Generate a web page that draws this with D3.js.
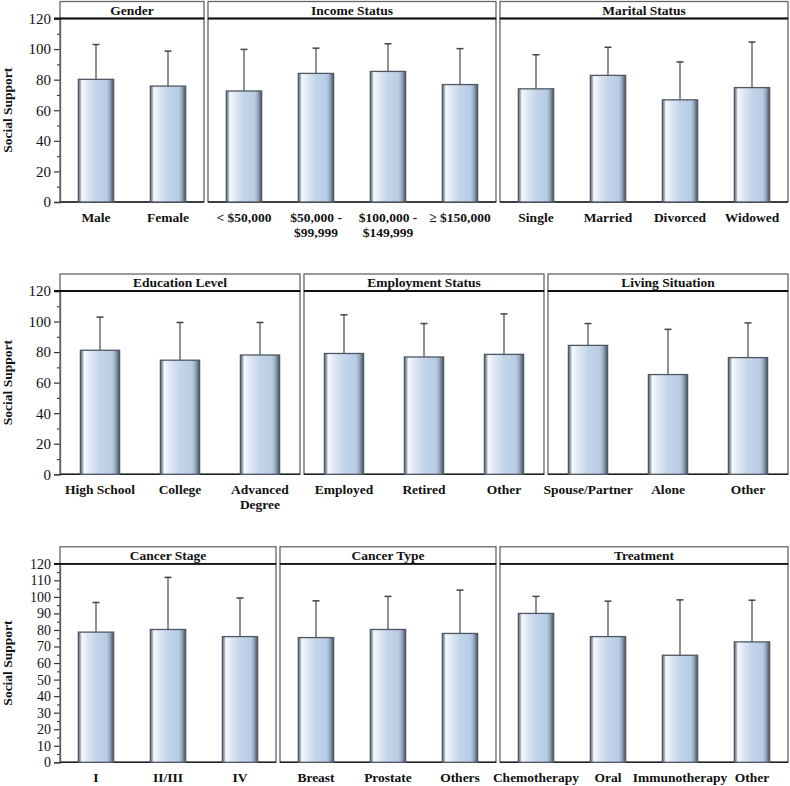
<!DOCTYPE html>
<html>
<head>
<meta charset="utf-8">
<script src="https://cdn.jsdelivr.net/npm/d3@7"></script>
<style>
  body { margin: 0; background: #fff; }
  svg { display: block; }
  text { font-family: "Liberation Serif", "Times New Roman", serif; fill: #111; }
</style>
</head>
<body>
<svg id="chart"></svg>
<script>
// ---- data (means and upper error bar ends) ----
var genderCats = ["Male", "Female"],
  genderMean = [80.2, 75.8],
  genderUpper = [103, 98.7];

var incomeCats = ["< $50,000", "$50,000 -\n$99,999", "$100,000 -\n$149,999", "\u2265 $150,000"],
  incomeMean = [72.6, 84.1, 85.4, 76.8],
  incomeUpper = [99.8, 100.6, 103.5, 100.3];

var maritalCats = ["Single", "Married", "Divorced", "Widowed"],
  maritalMean = [74, 82.8, 66.8, 74.8],
  maritalUpper = [96.3, 101.2, 91.6, 104.6];

var educationCats = ["High School", "College", "Advanced\nDegree"],
  educationMean = [81.2, 74.7, 78.1],
  educationUpper = [102.9, 99.4, 99.4];

var employmentCats = ["Employed", "Retired", "Other"],
  employmentMean = [79.1, 76.8, 78.5],
  employmentUpper = [104.4, 98.7, 105];

var livingCats = ["Spouse/Partner", "Alone", "Other"],
  livingMean = [84.4, 65.3, 76.4],
  livingUpper = [98.7, 94.9, 99.1];

var stageCats = ["I", "II/III", "IV"],
  stageMean = [78.7, 80.3, 76],
  stageUpper = [96.6, 111.8, 99.3];

var typeCats = ["Breast", "Prostate", "Others"],
  typeMean = [75.4, 80.3, 77.9],
  typeUpper = [97.6, 100.3, 104.1];

var treatmentCats = ["Chemotherapy", "Oral", "Immunotherapy", "Other"],
  treatmentMean = [90, 76, 64.7, 72.8],
  treatmentUpper = [100.3, 97.4, 98.2, 98];

var rowTitles = [
  ["Gender", "Income Status", "Marital Status"],
  ["Education Level", "Employment Status", "Living Situation"],
  ["Cancer Stage", "Cancer Type", "Treatment"]
];
var majorTicks = [
  [0, 20, 40, 60, 80, 100, 120],
  [0, 20, 40, 60, 80, 100, 120],
  [0, 10, 20, 30, 40, 50, 60, 70, 80, 90, 100, 110, 120]
];
var minorTicks = [
  [10, 30, 50, 70, 90, 110],
  [10, 30, 50, 70, 90, 110],
  [5, 15, 25, 35, 45, 55, 65, 75, 85, 95, 105, 115]
];

var rows = [
  [
    { cats: genderCats, mean: genderMean, upper: genderUpper },
    { cats: incomeCats, mean: incomeMean, upper: incomeUpper },
    { cats: maritalCats, mean: maritalMean, upper: maritalUpper }
  ],
  [
    { cats: educationCats, mean: educationMean, upper: educationUpper },
    { cats: employmentCats, mean: employmentMean, upper: employmentUpper },
    { cats: livingCats, mean: livingMean, upper: livingUpper }
  ],
  [
    { cats: stageCats, mean: stageMean, upper: stageUpper },
    { cats: typeCats, mean: typeMean, upper: typeUpper },
    { cats: treatmentCats, mean: treatmentMean, upper: treatmentUpper }
  ]
];

// ---- layout ----
var width = 790, height = 786,
  left = 60, right = 788, gap = 4,
  headerH = 17,
  // [header top, plot bottom] per row
  rowY = [[1.5, 202], [274, 474.3], [546.8, 762.3]],
  tickFont = [15, 15, 14];

var svg = d3.select("#chart").attr("width", width).attr("height", height);

var defs = svg.append("defs");
var grad = defs.append("linearGradient")
  .attr("id", "barGrad")
  .attr("x1", "0%").attr("x2", "100%").attr("y1", "0%").attr("y2", "0%");
[
  [0, "#5b6672"], [0.05, "#9aa6b4"], [0.1, "#f6f9fd"], [0.25, "#dfe8f3"],
  [0.5, "#c3d5ea"], [0.8, "#b7cce5"], [0.88, "#9cb0c8"], [0.95, "#6c7a8a"], [1, "#4d5763"]
].forEach(function(s) {
  grad.append("stop").attr("offset", s[0]).attr("stop-color", s[1]);
});

rows.forEach(function(panels, r) {
  var top = rowY[r][0],
    plotTop = top + headerH,
    bottom = rowY[r][1];

  var y = d3.scaleLinear().domain([0, 120]).range([bottom, plotTop]);

  var nCats = d3.sum(panels, function(p) { return p.cats.length; });
  var step = (right - left - gap * (panels.length - 1)) / nCats;

  var row = svg.append("g").attr("class", "row");

  // y axis
  var yAxis = row.append("g")
    .attr("transform", "translate(" + left + ",0)")
    .call(d3.axisLeft(y).tickValues(majorTicks[r]).tickSize(6).tickPadding(3).tickFormat(d3.format("d")));
  yAxis.select(".domain").attr("stroke", "#555").attr("stroke-width", 1.3);
  yAxis.selectAll(".tick line").attr("stroke", "#333").attr("stroke-width", 1.2);
  yAxis.selectAll(".tick text")
    .style("font-family", '"Liberation Serif", "Times New Roman", serif')
    .style("font-size", tickFont[r] + "px")
    .attr("fill", "#111");

  var yMinor = row.append("g")
    .attr("transform", "translate(" + left + ",0)")
    .call(d3.axisLeft(y).tickValues(minorTicks[r]).tickSize(3).tickFormat(""));
  yMinor.select(".domain").remove();
  yMinor.selectAll(".tick line").attr("stroke", "#333").attr("stroke-width", 1.1);

  row.append("text")
    .attr("transform", "translate(12," + ((plotTop + bottom) / 2) + ") rotate(-90)")
    .attr("text-anchor", "middle")
    .style("font-weight", "bold")
    .style("font-size", "13.5px")
    .text("Social Support");

  var x0 = left;
  panels.forEach(function(p, i) {
    var x1 = x0 + step * p.cats.length;
    var x = d3.scaleBand().domain(p.cats).range([x0, x1])
      .paddingInner(0.51).paddingOuter(0.255);

    var g = row.append("g").attr("class", "panel");

    // header strip
    g.append("rect")
      .attr("x", x0).attr("y", top)
      .attr("width", x1 - x0).attr("height", headerH)
      .attr("fill", "#fff").attr("stroke", "#666").attr("stroke-width", 1.3);
    g.append("text")
      .attr("x", (x0 + x1) / 2).attr("y", top + headerH / 2 + 4.6)
      .attr("text-anchor", "middle")
      .style("font-weight", "bold").style("font-size", "13.5px")
      .text(rowTitles[r][i]);

    // plot frame
    g.append("rect")
      .attr("x", x0).attr("y", plotTop)
      .attr("width", x1 - x0).attr("height", bottom - plotTop)
      .attr("fill", "none").attr("stroke", "#666").attr("stroke-width", 1.3);
    g.append("line")
      .attr("x1", x0 - (i === 0 ? 6 : 0)).attr("x2", x1)
      .attr("y1", plotTop).attr("y2", plotTop)
      .attr("stroke", "#111").attr("stroke-width", 1.8);
    g.append("line")
      .attr("x1", x0).attr("x2", x1)
      .attr("y1", bottom).attr("y2", bottom)
      .attr("stroke", "#222").attr("stroke-width", 1.6);

    var data = p.cats.map(function(c, k) {
      return { cat: c, mean: p.mean[k], upper: p.upper[k] };
    });

    // error bars (upper only)
    var eb = g.selectAll(".err").data(data).enter().append("g").attr("class", "err");
    eb.append("line")
      .attr("x1", function(d) { return x(d.cat) + x.bandwidth() / 2; })
      .attr("x2", function(d) { return x(d.cat) + x.bandwidth() / 2; })
      .attr("y1", function(d) { return y(d.mean); })
      .attr("y2", function(d) { return y(d.upper); })
      .attr("stroke", "#555").attr("stroke-width", 1.3);
    eb.append("line")
      .attr("x1", function(d) { return x(d.cat) + x.bandwidth() / 2 - 3.5; })
      .attr("x2", function(d) { return x(d.cat) + x.bandwidth() / 2 + 3.5; })
      .attr("y1", function(d) { return y(d.upper); })
      .attr("y2", function(d) { return y(d.upper); })
      .attr("stroke", "#444").attr("stroke-width", 1.5);

    // bars
    g.selectAll(".bar").data(data).enter().append("rect")
      .attr("class", "bar")
      .attr("x", function(d) { return x(d.cat); })
      .attr("width", x.bandwidth())
      .attr("y", function(d) { return y(d.mean); })
      .attr("height", function(d) { return y(0) - y(d.mean); })
      .attr("fill", "url(#barGrad)")
      .attr("stroke", "#4f5862").attr("stroke-width", 1.3);

    // category labels
    var lab = g.selectAll(".cat").data(data).enter().append("text")
      .attr("class", "cat")
      .attr("text-anchor", "middle")
      .attr("y", bottom + 19.5)
      .style("font-weight", "bold").style("font-size", "13.5px");
    lab.each(function(d) {
      var t = d3.select(this), cx = x(d.cat) + x.bandwidth() / 2;
      d.cat.split("\n").forEach(function(line, li) {
        t.append("tspan").attr("x", cx).attr("dy", li === 0 ? 0 : 15).text(line);
      });
    });

    x0 = x1 + gap;
  });
});
</script>
</body>
</html>
